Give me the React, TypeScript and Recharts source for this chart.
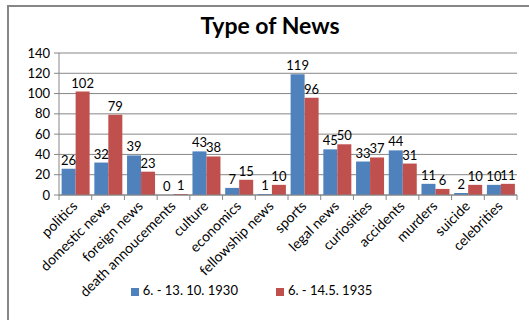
import { Bar, BarChart, CartesianGrid, LabelList, Legend, XAxis, YAxis } from "recharts";

const categories = [
  "politics",
  "domestic news",
  "foreign news",
  "death annoucements",
  "culture",
  "economics",
  "fellowship news",
  "sports",
  "legal news",
  "curiosities",
  "accidents",
  "murders",
  "suicide",
  "celebrities",
];
const series1930 = [26, 32, 39, 0, 43, 7, 1, 119, 45, 33, 44, 11, 2, 10];
const series1935 = [102, 79, 23, 1, 38, 15, 10, 96, 50, 37, 31, 6, 10, 11];
const yTicks = [0, 20, 40, 60, 80, 100, 120, 140];

const data = categories.map((name, i) => ({
  name,
  a: series1930[i],
  b: series1935[i],
}));

const FONT = "Lato, 'Liberation Sans', sans-serif";
const GRID = "#868686";

function CategoryTick(props: any) {
  const { x, y, payload, index } = props;
  const half = payload?.offset ?? 16.4;
  const isLast = index === categories.length - 1;
  return (
    <g>
      <line x1={x - half} y1={y - 8} x2={x - half} y2={y - 3} stroke={GRID} />
      {isLast && <line x1={x + half} y1={y - 8} x2={x + half} y2={y - 3} stroke={GRID} />}
      <text
        x={x + 3}
        y={y + 4}
        textAnchor="end"
        fontSize={14}
        fontFamily={FONT}
        fill="#000"
        transform={`rotate(-45, ${x + 3}, ${y + 4})`}
      >
        {payload.value}
      </text>
    </g>
  );
}

function ValueLabel(props: any) {
  const { x, y, width, value } = props;
  return (
    <text x={x + width / 2} y={y - 4} textAnchor="middle" fontSize={13} fontFamily={FONT} fill="#000">
      {String(value)}
    </text>
  );
}

// Recharts skips zero-height bars in LabelList, so the 1935 label also
// writes the 1930 "0" next to it, one bar width to the left.
function ValueLabelB(props: any) {
  const { x, y, width, height, index } = props;
  const other = series1930[index];
  return (
    <g>
      <ValueLabel {...props} />
      {other === 0 && (
        <text x={x - width / 2} y={y + height - 4} textAnchor="middle" fontSize={13} fontFamily={FONT} fill="#000">
          {String(other)}
        </text>
      )}
    </g>
  );
}

export default function App() {
  return (
    <div style={{ position: "absolute", left: 0, top: 0, width: 529, height: 320, background: "#fff", overflow: "hidden" }}>
      <div
        style={{
          position: "absolute",
          left: 7,
          top: 5,
          width: 540,
          height: 340,
          border: `2px solid ${GRID}`,
          boxSizing: "border-box",
        }}
      />
      <div
        style={{
          position: "absolute",
          left: 0,
          top: 11,
          width: 540,
          textAlign: "center",
          fontFamily: FONT,
          fontWeight: 700,
          fontSize: 23,
          color: "#000",
        }}
      >
        Type of News
      </div>
      <BarChart
        width={529}
        height={320}
        data={data}
        margin={{ top: 53, right: 12, left: 0, bottom: 22 }}
        barCategoryGap="8%"
        barGap={0}
        style={{ position: "absolute", left: 0, top: 0 }}
      >
        <CartesianGrid vertical={false} stroke={GRID} />
        <XAxis
          dataKey="name"
          interval={0}
          height={87}
          tickLine={false}
          stroke={GRID}
          tick={<CategoryTick />}
        />
        <YAxis
          width={59}
          domain={[0, 140]}
          ticks={yTicks}
          interval={0}
          tickSize={5}
          tickMargin={4}
          stroke={GRID}
          tick={{ fontSize: 13, fill: "#000", fontFamily: FONT }}
        />
        <Legend
          verticalAlign="bottom"
          iconType="square"
          iconSize={8}
          wrapperStyle={{ fontFamily: FONT, fontSize: 13, paddingLeft: 12 }}
          formatter={(value: string) => (
            <span style={{ color: "#000", paddingRight: 28 }}>{value}</span>
          )}
        />
        <Bar dataKey="a" name="6. - 13. 10. 1930" fill="#4F81BD" isAnimationActive={false}>
          <LabelList dataKey="a" content={<ValueLabel />} />
        </Bar>
        <Bar dataKey="b" name="6. - 14.5. 1935" fill="#C0504D" isAnimationActive={false}>
          <LabelList dataKey="b" content={<ValueLabelB />} />
        </Bar>
      </BarChart>
    </div>
  );
}
